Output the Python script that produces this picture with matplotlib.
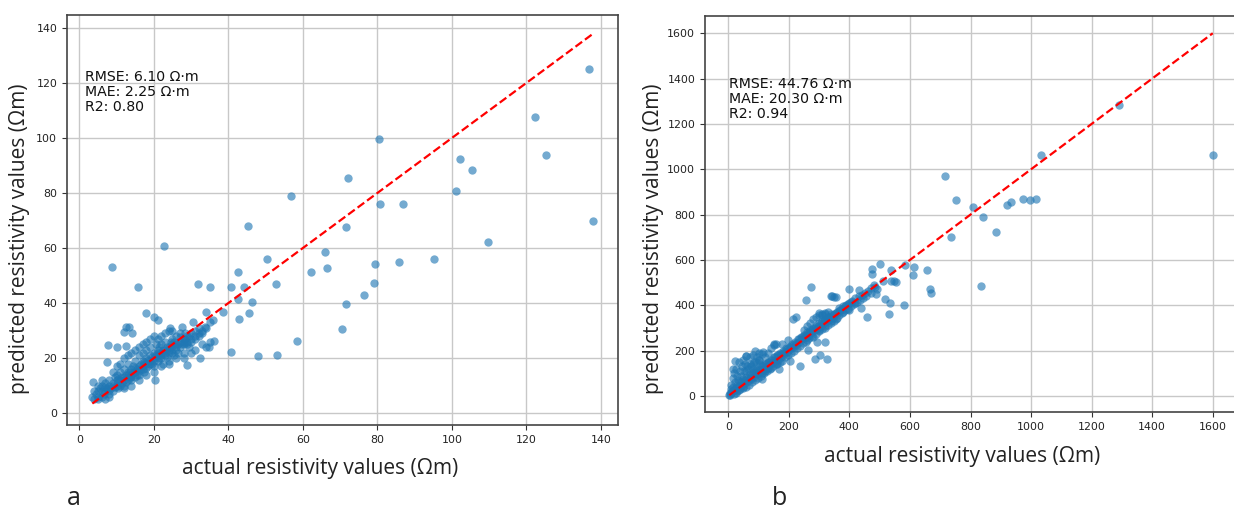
import matplotlib
matplotlib.use('Agg')
import matplotlib.pyplot as plt
import numpy as np

# panel a: actual vs predicted resistivity (ohm m)
actual_a = [136.8, 122.3, 125.3, 80.4, 102.3, 105.3, 72.2, 101.2, 56.8, 80.8, 86.8, 71.5, 138.0,
            45.3, 109.8, 22.8, 65.9, 95.1, 50.3, 8.8, 79.5, 85.8, 62.1, 66.5, 42.6, 15.7, 31.8,
            35.0, 40.8, 44.1, 52.8, 79.0, 76.5, 42.6, 46.4, 71.5, 38.7, 45.6, 42.8, 70.5, 58.4,
            40.6, 48.1, 53.2, 36.1, 34.7, 33.7, 34.0, 30.6, 32.5, 28.8, 20.2, 17.8, 20.0, 21.0,
            7.6, 10.0, 12.5, 13.3, 12.1, 14.1, 3.6, 7.4, 27.7, 24.4, 12.5,
            4, 4.5, 5, 5, 5.5, 6, 6, 6.5, 7, 7, 7.5, 8, 8, 8, 8.5, 9, 9, 9.5, 10, 10, 10, 10.5,
            11, 11, 11.5, 12, 12, 12, 12.5, 13, 13, 13, 13.5, 14, 14, 14, 14.5, 15, 15, 15, 15.5,
            16, 16, 16, 16.5, 17, 17, 17, 17.5, 18, 18, 18, 18.5, 19, 19, 19, 19.5, 20, 20, 20,
            20.5, 21, 21, 21, 21.5, 22, 22, 22, 22.5, 23, 23, 23, 23.5, 24, 24, 24, 24.5, 25, 25,
            25, 25.5, 26, 26, 26, 26.5, 27, 27, 27, 28, 28, 28, 28.5, 29, 29, 29.5, 30, 30, 31,
            31, 32, 32, 33,
            9, 10, 11, 12, 13, 14, 15, 16, 17, 18, 19, 20, 21, 22, 23, 24, 25,
            12, 14, 16, 18, 20, 22, 24, 26, 28, 30, 31, 33, 34, 35,
            3.5, 4, 5, 5, 6, 7, 8,
            6, 7, 8, 9, 9.5, 10, 10.5, 11, 11.5, 12, 12.5, 13, 13.5, 14, 14.5, 15, 15.5, 16,
            16.5, 17, 17.5, 18, 18.5, 19, 19.5, 20, 20.5, 21, 21.5, 22, 22.5, 23, 23.5, 24,
            24.5, 25, 25.5, 26, 26.5, 27, 27.5, 28, 28.5, 29, 29.5, 30, 31, 32, 33, 34, 35, 36]
predicted_a = [124.9, 107.7, 94.0, 99.8, 92.4, 88.5, 85.3, 80.6, 79.0, 76.0, 75.9, 67.6, 69.9,
               68.0, 62.2, 60.8, 58.5, 56.2, 56.2, 53.1, 54.2, 54.8, 51.2, 52.9, 51.4, 46.0, 47.1,
               45.9, 45.9, 46.0, 46.9, 47.4, 42.9, 41.5, 40.4, 39.6, 36.8, 36.3, 34.2, 30.6, 26.3,
               22.4, 20.7, 21.3, 26.1, 24.1, 31.2, 36.6, 33.0, 20.0, 17.5, 11.9, 36.3, 34.8, 33.9,
               24.6, 24.2, 31.2, 31.2, 29.5, 29.3, 11.3, 18.6, 31.2, 30.8, 24.3,
               5, 7, 6, 8, 9, 6, 10, 7, 8, 11, 9, 7, 10, 12, 9, 11, 8, 13, 10, 12, 14, 9,
               12, 15, 11, 13, 16, 10, 14, 12, 15, 18, 13, 14, 16, 12, 17, 15, 13, 19, 16,
               14, 17, 21, 18, 16, 19, 22, 15, 18, 20, 23, 17, 19, 21, 24, 18, 20, 22, 17,
               25, 21, 19, 23, 24, 22, 20, 25, 18, 23, 21, 26, 24, 24, 22, 19, 26, 25, 23,
               27, 21, 25, 24, 28, 22, 26, 24, 29, 27, 25, 22, 29, 28, 26, 24, 29, 27, 30,
               28, 29, 31, 30,
               15, 17, 18, 20, 21, 22, 23, 24, 25, 26, 27, 28, 27, 28, 29, 30, 30,
               9, 10, 12, 14, 15, 17, 18, 20, 20, 22, 23, 25, 24, 26,
               6, 8, 5, 10, 12, 5, 6,
               8, 9.5, 8.5, 10, 9.5, 11, 12.5, 10, 13, 12, 11.5, 14, 15, 13, 14.5, 16.5, 14, 15.5,
               16, 17.5, 18.5, 16.5, 19.5, 18, 20.5, 19, 21, 22, 20, 21, 23, 22, 20.5, 23,
               24, 22, 26, 23, 25, 27.5, 25, 26, 27, 25, 28, 26, 27, 28, 29, 31, 33, 34]

# panel b
actual_b = [1600, 1289, 1033, 717, 751, 808, 840, 920, 932, 972, 996, 1017, 737, 883, 835,
            500, 475, 473, 536, 582, 614, 610, 656, 548, 536, 554, 510, 667, 670, 580, 535,
            530, 517, 457, 438, 397, 357, 342, 272, 258, 215, 225, 238, 285, 302, 325, 318,
            294, 263, 203, 159, 150, 176, 198, 21, 17, 88, 114, 58, 470, 488, 431, 483,
            5, 8, 10, 12, 15, 18, 20, 22, 25, 28, 30, 32, 35, 38, 40, 42, 45, 48, 50, 52, 55,
            58, 60, 62, 65, 68, 70, 72, 75, 78, 80, 82, 85, 88, 90, 92, 95, 98, 100, 102, 105,
            108, 110, 112, 115, 118, 120, 125, 128, 130, 135, 138, 140, 145, 148, 150, 155,
            158, 160, 165, 168, 170, 175, 178, 180, 185, 188, 190, 195, 198, 200, 205, 208,
            210, 215, 218, 220, 225, 228, 230, 235, 238, 240, 245, 248, 250, 255, 258, 260,
            265, 268, 270, 275, 278, 280, 285, 288, 290, 295, 298, 300, 305, 308, 310, 315,
            318, 320, 325, 328, 330, 335, 338, 340, 345, 350, 355, 360, 365, 370, 375, 380,
            385, 390, 395, 400, 405, 410, 415, 420, 425, 430, 435, 440, 445, 450, 455, 460,
            470, 480, 490,
            3, 6, 10, 15, 20, 25, 30, 35, 40, 45, 50, 55, 60, 65, 70, 75, 80, 85, 95, 100,
            105, 110, 120, 130, 140, 150, 160, 170,
            250, 260, 270, 280, 290, 300, 310, 320, 330, 260, 280, 300, 320, 340, 360, 380,
            400, 420, 350, 365, 340, 350, 300, 310, 320,
            15, 25, 35, 45, 55, 65, 75, 85, 95, 105, 115, 125, 135, 145, 155, 165, 175, 185,
            195, 205, 215, 225, 235, 245, 255, 265, 275, 285, 295, 305, 315, 325, 335, 345,
            355, 365, 375, 385, 395, 405, 50, 70, 90, 110, 130, 60, 80, 100, 120, 140]
predicted_b = [1061, 1285, 1062, 969, 864, 832, 789, 841, 854, 869, 866, 867, 700, 725, 485,
               581, 558, 538, 555, 576, 570, 532, 555, 507, 507, 504, 507, 473, 455, 399, 411,
               360, 428, 346, 389, 470, 436, 439, 480, 424, 341, 346, 133, 165, 179, 165, 239,
               239, 204, 152, 230, 227, 230, 248, 154, 120, 198, 194, 174, 452, 449, 467, 479,
               5, 12, 30, 20, 40, 10, 25, 60, 35, 50, 20, 70, 45, 30, 60, 90, 50, 35, 75, 110,
               55, 40, 85, 130, 65, 50, 95, 140, 75, 60, 105, 120, 85, 70, 115, 150, 95, 80,
               120, 160, 105, 90, 130, 75, 115, 100, 140, 125, 110, 150, 135, 120, 160, 145,
               130, 170, 150, 140, 180, 160, 120, 190, 170, 155, 200, 185, 170, 210, 195, 180,
               215, 205, 190, 230, 215, 200, 240, 225, 210, 250, 240, 220, 260, 250, 235, 270,
               260, 240, 280, 270, 255, 290, 280, 265, 300, 290, 275, 310, 300, 285, 320, 310,
               295, 330, 320, 300, 340, 330, 315, 350, 340, 320, 360, 345, 360, 340, 370, 355,
               380, 365, 395, 380, 400, 385, 410, 395, 420, 405, 430, 415, 440, 425, 445, 430,
               455, 440, 465, 475, 490, 470,
               2, 15, 50, 80, 100, 120, 90, 150, 110, 130, 160, 140, 175, 120, 170, 130, 180,
               150, 170, 190, 140, 185, 170, 190, 210, 225, 140, 150,
               290, 310, 320, 340, 350, 355, 360, 365, 370, 245, 260, 290, 310, 330, 345, 370,
               380, 410, 330, 390, 440, 435, 365, 355, 360,
               20, 15, 25, 60, 70, 80, 90, 100, 110, 120, 130, 140, 150, 160, 170, 180, 185, 195,
               205, 215, 225, 235, 250, 260, 270, 280, 290, 300, 310, 320, 330, 340, 350, 355,
               365, 375, 385, 395, 405, 415, 40, 80, 100, 100, 125, 110, 140, 160, 110, 125]

stats_a = 'RMSE: 6.10 Ω·m\nMAE: 2.25 Ω·m\nR2: 0.80'
stats_b = 'RMSE: 44.76 Ω·m\nMAE: 20.30 Ω·m\nR2: 0.94'
xlabel = 'actual resistivity values (Ωm)'
ylabel = 'predicted resistivity values (Ωm)'

label_font = 'Open Sans'

fig = plt.figure(figsize=(12.34, 5.11), dpi=100)
W, H = 1234, 511


def px_axes(left, top, right, bottom):
    return fig.add_axes([left / W, 1 - bottom / H, (right - left) / W, (bottom - top) / H])


def panel(ax, actual, predicted, stats, xlim, ylim, ticks, txt_pos):
    ax.scatter(actual, predicted, s=36, alpha=0.62, color='#1f77b4', linewidths=0, zorder=3)
    lo, hi = min(actual), max(actual)
    ax.plot([lo, hi], [lo, hi], 'r--', lw=1.6, zorder=4)
    ax.set_xlim(*xlim)
    ax.set_ylim(*ylim)
    ax.set_xticks(ticks)
    ax.set_yticks(ticks)
    ax.grid(True, color='#c8c8c8', lw=1.0, zorder=0)
    ax.set_axisbelow(True)
    ax.tick_params(labelsize=7.9, labelcolor='#222222', color='#333333')
    for sp in ax.spines.values():
        sp.set_color('#444444')
        sp.set_linewidth(1.2)
    ax.text(txt_pos[0], txt_pos[1], stats, transform=ax.transAxes, va='top', ha='left',
            fontsize=10.2, color='#111111', linespacing=1.1)


ax_a = px_axes(67, 15, 618, 425)
panel(ax_a, actual_a, predicted_a, stats_a, (-3.3, 144.6), (-4.3, 144.7),
      np.arange(0, 141, 20), (0.033, 0.866))

ax_b = px_axes(705, 16, 1237, 412)
panel(ax_b, actual_b, predicted_b, stats_b, (-77, 1680), (-71, 1676),
      np.arange(0, 1601, 200), (0.045, 0.846))

# axis titles and panel letters placed like in the figure
fig.text(320 / W, (H - 474) / H, xlabel, ha='center', va='baseline', fontsize=15,
         family=label_font, color='#222222')
fig.text(962 / W, (H - 462) / H, xlabel, ha='center', va='baseline', fontsize=15,
         family=label_font, color='#222222')
fig.text(20 / W, 1 - 239 / H, ylabel, ha='center', va='center', rotation=90, fontsize=15,
         family=label_font, color='#222222')
fig.text(654 / W, 1 - 239 / H, ylabel, ha='center', va='center', rotation=90, fontsize=15,
         family=label_font, color='#222222')
fig.text(67 / W, (H - 505) / H, 'a', ha='left', va='baseline', fontsize=18,
         family=label_font, color='#222222')
fig.text(772 / W, (H - 505) / H, 'b', ha='left', va='baseline', fontsize=18,
         family=label_font, color='#222222')

fig.savefig('out.png', dpi=100)
